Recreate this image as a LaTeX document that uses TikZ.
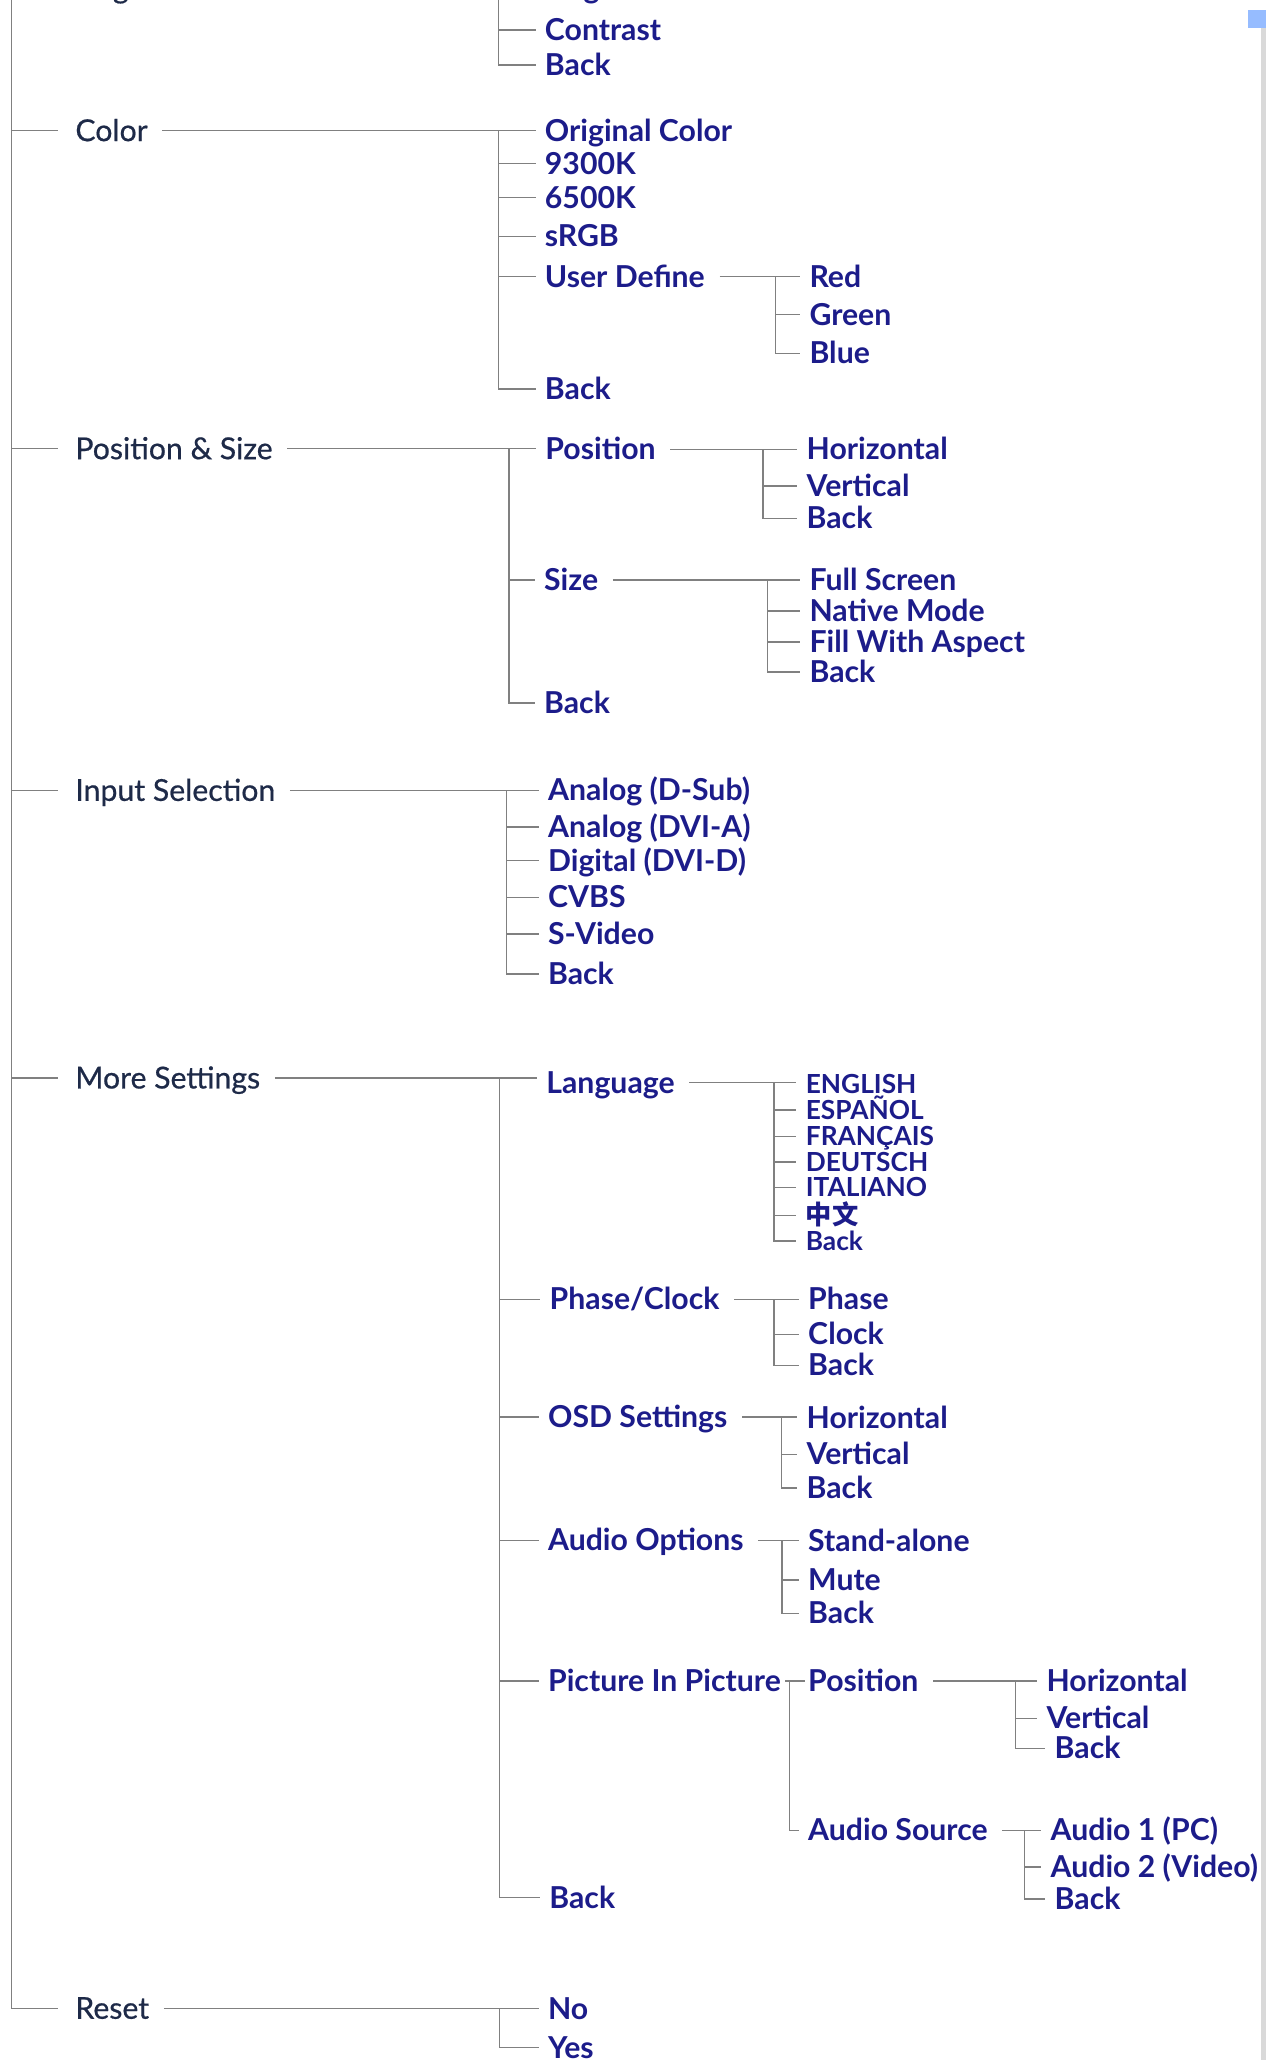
\documentclass[tikz,border=0pt]{standalone}
\usepackage{fontspec}
\setmainfont{Lato}
\newfontfamily\labelfont{Lato}[FakeBold=0.6]
\newfontfamily\cjkfont{Noto Sans CJK SC}
\definecolor{menublue}{RGB}{28,28,138}
\definecolor{menudark}{RGB}{30,42,72}
\definecolor{linegray}{RGB}{128,128,128}
\definecolor{stripgray}{RGB}{217,217,217}
\definecolor{tabblue}{RGB}{150,188,255}
\begin{document}
\begin{tikzpicture}[x=1pt,y=-1pt,
  mainlabel/.style={anchor=west, inner sep=0pt, text height=16pt, text depth=0pt, text=menudark, font=\labelfont\fontsize{23}{26}\selectfont},
  item/.style={anchor=west, inner sep=0pt, text height=16pt, text depth=0pt, text=menublue, font=\fontsize{23}{26}\selectfont\bfseries},
  langitem/.style={item, text height=14pt, font=\fontsize{20}{22}\selectfont\bfseries},
  link/.style={draw=linegray, line width=1.1pt, shorten >=7pt},
  feed/.style={link, shorten <=11pt},
  stem/.style={link, shorten >=12.9pt}]
\useasboundingbox (0,0) rectangle (964,1568);

% right border of the page
\fill[stripgray] (960,20.5) rectangle (964,1568);
\fill[tabblue] (950.3,7.6) rectangle (964,21.3);

% main menu
\path
(57.2,-9.5) node[mainlabel] (briL) {Brightness}
(57.2,99.4) node[mainlabel] (color) {Color}
(57.2,341.5) node[mainlabel] (possize) {Position \& Size}
(57.2,601.6) node[mainlabel] (input) {Input Selection}
(57.2,820.5) node[mainlabel] (more) {More Settings}
(57.2,1528.6) node[mainlabel] (reset) {Reset};

% first level
\path
(414.6,-9.5) node[item] (bri) {Brightness}
(414.6,23) node[item] (con) {Contrast}
(414.6,49.5) node[item] (conBack) {Back}
(414.6,99.4) node[item] (orig) {Original Color}
(414.6,124.5) node[item] (k93) {9300K}
(414.6,150.5) node[item] (k65) {6500K}
(414.6,180) node[item] (srgb) {sRGB}
(414.6,210.5) node[item] (udef) {User Define}
(414.6,296) node[item] (colBack) {Back}
(415,342) node[item] (pos) {Position}
(414,441.5) node[item] (size) {Size}
(414,535) node[item] (psBack) {Back}
(417,601.6) node[item] (dsub) {Analog (D-Sub)}
(417,629.5) node[item] (dvia) {Analog (DVI-A)}
(417,655) node[item] (dvid) {Digital (DVI-D)}
(417,683) node[item] (cvbs) {CVBS}
(417,711) node[item] (svid) {S-Video}
(417,741.5) node[item] (inBack) {Back}
(415.7,824) node[item] (lang) {Language}
(418.2,989) node[item] (pc) {Phase/Clock}
(417,1078.5) node[item] (osd) {OSD Settings}
(417,1172.5) node[item] (aud) {Audio Options}
(417,1279.5) node[item] (pip) {Picture In Picture}
(418,1444.3) node[item] (moreBack) {Back}
(417,1529.3) node[item] (no) {No}
(417,1558.5) node[item] (yes) {Yes};

% second level
\path
(616,211) node[item] (red) {Red}
(616,239.5) node[item] (green) {Green}
(616,269) node[item] (blue) {Blue}
(613.8,342) node[item] (posH) {Horizontal}
(613.8,370) node[item] (posVert) {Vertical}
(613.8,394.6) node[item] (posBack) {Back}
(616,441.5) node[item] (full) {Full Screen}
(616,465) node[item] (native) {Native Mode}
(616,488.5) node[item] (fill) {Fill With Aspect}
(616,511.6) node[item] (sizeBack) {Back}
(613.2,825.5) node[langitem] (eng) {ENGLISH}
(613.2,845) node[langitem] (esp) {ESPAÑOL}
(613.2,865) node[langitem] (fra) {FRANÇAIS}
(613.2,884.5) node[langitem] (deu) {DEUTSCH}
(613.2,904) node[langitem] (ita) {ITALIANO}
(613.2,925) node[langitem] (zh) {\cjkfont 中文}
(613.2,944.5) node[langitem] (langBack) {Back}
(615,988.5) node[item] (phase) {Phase}
(615,1015.7) node[item] (clock) {Clock}
(615,1039.3) node[item] (pcBack) {Back}
(613.8,1079) node[item] (osdH) {Horizontal}
(613.8,1107) node[item] (osdVert) {Vertical}
(613.8,1132.7) node[item] (osdBack) {Back}
(615,1173) node[item] (stand) {Stand-alone}
(615,1202.7) node[item] (mute) {Mute}
(615,1228) node[item] (audBack) {Back}
(615,1279.5) node[item] (pipPos) {Position}
(615,1393.1) node[item] (asrc) {Audio Source};

% third level
\path
(796.4,1279.5) node[item] (pipH) {Horizontal}
(796.4,1308) node[item] (pipVert) {Vertical}
(802.6,1330.7) node[item] (pipBack) {Back}
(799.5,1393.1) node[item] (a1) {Audio 1 (PC)}
(799.5,1421) node[item] (a2) {Audio 2 (Video)}
(802.6,1445.6) node[item] (asBack) {Back};

% branching points
\coordinate (mainT) at (8.6,-5);
\coordinate (briT) at (379.5,-20);
\coordinate (colorT) at (379.5,99.4);
\coordinate (udefT) at (590.4,210.5);
\coordinate (psT) at (387.5,341.5);
\coordinate (posT) at (580.6,342);
\coordinate (sizeT) at (584.3,441.5);
\coordinate (inT) at (385.6,601.6);
\coordinate (moreT) at (380,820.5);
\coordinate (langT) at (589.2,824);
\coordinate (pcT) at (589.2,989);
\coordinate (osdT) at (594.7,1078.5);
\coordinate (audT) at (595.3,1172.5);
\coordinate (pipT) at (600.9,1279.5);
\coordinate (pipPosT) at (773,1279.5);
\coordinate (asrcT) at (779.8,1393.1);
\coordinate (resetT) at (380,1528.6);

% trunk
\draw[stem] (mainT) |- (reset.west);
\foreach \n in {color,possize,input,more}
  \draw[stem] (mainT |- \n.west) -- (\n.west);

% from an entry to its submenu
\foreach \a/\b in {color/orig, possize/pos, input/dsub, more/lang, reset/no,
    udef/red, pos/posH, size/full, lang/eng, pc/phase, osd/osdH, aud/stand,
    pipPos/pipH, asrc/a1}
  \draw[feed] (\a.east) -- (\a.east -| \b.west);
\draw[link, shorten <=3pt, shorten >=2pt] (pip.east) -- (pip.east -| pipPos.west);

% submenu bars
\foreach \t/\l in {briT/conBack, colorT/colBack, udefT/blue, psT/psBack,
    posT/posBack, sizeT/sizeBack, inT/inBack, moreT/moreBack, langT/langBack,
    pcT/pcBack, osdT/osdBack, audT/audBack, pipT/asrc, pipPosT/pipBack,
    asrcT/asBack, resetT/yes}
  \draw[link] (\t) |- (\l.west);
\foreach \t/\l in {briT/con, colorT/k93, colorT/k65, colorT/srgb, colorT/udef,
    udefT/green, psT/size, posT/posVert, sizeT/native, sizeT/fill, inT/dvia,
    inT/dvid, inT/cvbs, inT/svid, moreT/pc, moreT/osd, moreT/aud, moreT/pip,
    langT/esp, langT/fra, langT/deu, langT/ita, langT/zh, pcT/clock,
    osdT/osdVert, audT/mute, asrcT/a2, pipPosT/pipVert}
  \draw[link] (\t |- \l.west) -- (\l.west);
\end{tikzpicture}
\end{document}
